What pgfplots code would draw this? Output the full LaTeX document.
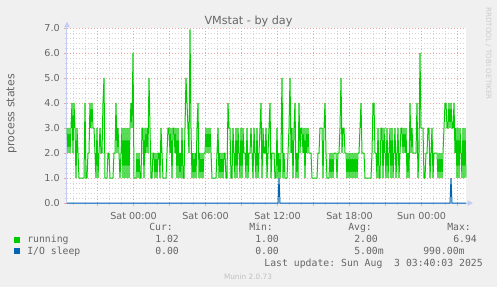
\documentclass[border=0pt]{standalone}
\usepackage{pgfplots}
\pgfplotsset{compat=1.18}
\usepackage{fontspec}
\setmainfont{DejaVu Sans}
\setmonofont{DejaVu Sans Mono}
\usetikzlibrary{arrows.meta}
\definecolor{bgc}{HTML}{F0F0F0}
\definecolor{txt}{HTML}{666666}
\definecolor{runc}{HTML}{00CC00}
\definecolor{iosc}{HTML}{0066B3}
\definecolor{axc}{HTML}{C4CCF4}
\definecolor{mgrid}{HTML}{EBA8A8}
\definecolor{mingrid}{HTML}{D4D4D4}
\definecolor{wm}{HTML}{CCCCCC}
\definecolor{munc}{HTML}{C0C0C0}
\newcommand\ft[1]{\fontsize{#1}{#1}\selectfont}
\pgfkeys{/pgf/number format/assume math mode=true}
\begin{document}
\begin{tikzpicture}[x=0.75pt,y=0.75pt]
\fill[bgc] (0,0) rectangle (497,287);
\path[use as bounding box] (0,0) rectangle (497,287);
\begin{axis}[
  at={(50.25pt,63pt)}, anchor=south west,
  scale only axis, width=299.25pt, height=131.25pt,
  xmin=67, xmax=466, ymin=0, ymax=7,
  clip=false,
  axis background/.style={fill=white},
  axis x line=bottom, axis y line=left,
  axis line style={draw=axc, line width=0.75pt},
  x axis line style={-{Triangle[length=4pt,width=4pt]}, shorten >=-5.25pt},
  y axis line style={-{Triangle[length=4pt,width=4pt]}, shorten >=-4.7pt},
  xtick={97.5,133.5,169.5,205.5,241.5,277.5,313.5,349.5,385.5,421.5,457.5},
  xticklabels={{},{Sat 00:00},{},{Sat 06:00},{},{Sat 12:00},{},{Sat 18:00},{},{Sun 00:00},{}},
  minor xtick={73.5,85.5,109.5,121.5,145.5,157.5,181.5,193.5,217.5,229.5,253.5,265.5,289.5,301.5,325.5,337.5,361.5,373.5,397.5,409.5,433.5,445.5},
  ytick={0,1,2,3,4,5,6,7},
  minor y tick num=4,
  yticklabel={\pgfmathprintnumber[fixed,fixed zerofill,precision=1]{\tick}},
  grid=both,
  major grid style={draw=mgrid, line width=0.75pt, dash pattern=on 0.75pt off 1.5pt},
  minor grid style={draw=mingrid, line width=0.75pt, dash pattern=on 0.75pt off 1.5pt},
  tick align=outside,
  major tick length=2.25pt, minor tick length=1.5pt,
  major tick style={draw=mgrid, line width=0.75pt},
  minor tick style={draw=mingrid, line width=0.75pt},
  tick label style={font=\ft{7.2pt}, text=txt},
  xticklabel style={anchor=base, inner sep=0pt, yshift=-9.75pt},
  yticklabel style={anchor=east, inner sep=0pt, xshift=-3pt},
  ylabel={process states},
  ylabel style={at={(axis description cs:-0.139,0.509)}, anchor=center, font=\ft{8.25pt}, text=txt},
]
\addplot[runc, line width=0.75pt, sharp plot] coordinates {
(67,3)(68,2)(69,3)(70,2)(71,3)(72,4)(73,2)(74,4)(75,3)(76,1)(77,3)(78,2)(79,1)(80,1)(81,1)(82,1)(83,1)(84,1)(85,4)(86,1)
(87,1)(88,2)(89,2)(90,4)(91,3)(92,4)(93,3)(94,3)(95,2)(96,1)(97,3)(98,1)(99,2)(100,3)(101,2)(102,2)(103,4)(104,5)(105,1)(106,1)
(107,1)(108,2)(109,2)(110,1)(111,1)(112,1)(113,1)(114,2)(115,2)(116,4)(117,2)(118,3)(119,2)(120,1)(121,2)(122,3)(123,1)(124,3)
(125,1)(126,3)(127,1)(128,3)(129,1)(130,3)(131,4)(132,3)(133,6)(134,1)(135,1)(136,1)(137,2)(138,1)(139,2)(140,1)(141,1)(142,3)
(143,3)(144,1)(145,3)(146,2)(147,3)(148,2)(149,5)(150,3)(151,1)(152,1)(153,2)(154,2)(155,1)(156,2)(157,1)(158,2)(159,2)(160,1)
(161,3)(162,2)(163,1)(164,1)(165,1)(166,1)(167,2)(168,3)(169,3)(170,2)(171,3)(172,1)(173,3)(174,3)(175,2)(176,3)(177,1)(178,3)
(179,1)(180,2)(181,1)
(182,3)(183,1)(184,1)(185,3)(186,5)(187,4)(188,3)(189,2)(190,6.94)(191,3)(192,1)(193,2)(194,1)(195,2)(196,1)(197,3)(198,4)(199,1)
(200,2)(201,1)(202,2)(203,1)(204,2)(205,2)(206,3)(207,2)(208,3)(209,2)(210,3)(211,2)(212,1)(213,1)(214,1)(215,1)(216,1)(217,2)
(218,3)(219,1)(220,2)(221,1)(222,2)(223,1)(224,2)(225,2)(226,1)(227,1)(228,4)(229,3)(230,3)(231,1)(232,1)(233,3)(234,2)(235,1)
(236,3)(237,1)(238,3)
(239,2)(240,1)(241,3)(242,1)(243,3)(244,2)(245,2)(246,1)(247,3)(248,1)(249,2)(250,2)(251,3)(252,2)(253,1)(254,3)(255,2)(256,1)
(257,3)(258,1)(259,2)(260,3)(261,4)(262,1)(263,3)(264,2)(265,2)(266,3)(267,1)(268,2)(269,3)(270,4)(271,1)(272,2)(273,2)(274,2)
(275,1)(276,1)(277,3)(278,1)(279,2)(280,1)(281,2)(282,5)(283,1)(284,2)(285,1)(286,1)(287,1)(288,2)(289,3)(290,5)(291,2)(292,3)
(293,1)(294,3)
(295,4)(296,1)(297,2)(298,1)(299,4)(300,2)(301,3)(302,3)(303,2)(304,3)(305,1)(306,3)(307,2)(308,3)(309,2)(310,2)(311,2)(312,1)
(313,1)(314,1)(315,1)(316,1)(317,1)(318,2)(319,2)(320,3)(321,3)(322,3)(323,1)(324,3)(325,4)(326,2)(327,1)(328,1)(329,1)(330,2)
(331,1)(332,2)(333,1)(334,2)(335,2)(336,2)(337,1)(338,2)(339,2)(340,3)(341,5)(342,2)(343,3)(344,3)(345,2)(346,2)(347,1)(348,2)
(349,1)(350,2)(351,1)
(352,2)(353,1)(354,2)(355,1)(356,2)(357,1)(358,2)(359,2)(360,3)(361,4)(362,2)(363,2)(364,2)(365,1)(366,1)(367,1)(368,1)(369,1)
(370,1)(371,1)(372,2)(373,4)(374,4)(375,2)(376,2)(377,1)(378,3)(379,1)(380,1)(381,3)(382,3)(383,1)(384,3)(385,2)(386,1)(387,3)
(388,1)(389,2)(390,3)(391,1)(392,3)(393,1)(394,2)(395,3)(396,1)(397,2)(398,3)(399,1)(400,2)(401,3)(402,3)(403,2)(404,3)(405,2)
(406,3)(407,1)(408,2)(409,1)(410,4)(411,2)(412,3)(413,2)(414,2)(415,2)(416,2)(417,4)(418,1)(419,2)(420,6)(421,3)(422,3)(423,3)
(424,1)(425,1)(426,2)(427,2)(428,3)(429,3)(430,1)(431,2)(432,3)(433,1)(434,2)(435,2)(436,2)(437,2)(438,1)(439,2)(440,1)(441,2)
(442,1)(443,2)(444,3)(445,4)(446,4)(447,3)(448,3)(449,4)(450,3)(451,4)(452,3)(453,3)(454,4)(455,2)(456,3)(457,1)(458,3)(459,1)
(460,3)(461,2)(462,1)(463,3)(464,1)(465,3)(466,1.02)
};
\addplot[iosc, line width=0.75pt, sharp plot] coordinates {
(67,0)(278,0)(279,0.99)(280,0)(450,0)(451,0.99)(452,0)(466,0)
};
\end{axis}
% title and watermark
\node[anchor=base, text=txt, font=\ft{8.4pt}, inner sep=0pt] at (248.5,263) {VMstat - by day};
\node[rotate=-90, anchor=center, text=wm, font=\ft{5.4pt}, inner sep=0pt] at (488.5,233.5) {RRDTOOL / TOBI OETIKER};
% legend
\begin{scope}[every node/.style={inner sep=0pt, text=txt, font=\ttfamily\ft{7.35pt}}]
\node[anchor=base west] at (149,56.3) {Cur:};
\node[anchor=base west] at (249,56.3) {Min:};
\node[anchor=base west] at (348,56.3) {Avg:};
\node[anchor=base west] at (447,56.3) {Max:};
\fill[runc] (14,44) rectangle (20,50);
\node[anchor=base west] at (27,44.3) {running};
\node[anchor=base west] at (155,44.3) {1.02};
\node[anchor=base west] at (255,44.3) {1.00};
\node[anchor=base west] at (354,44.3) {2.00};
\node[anchor=base west] at (453,44.3) {6.94};
\fill[iosc] (14,32.7) rectangle (20,38.7);
\node[anchor=base west] at (27,32.7) {I/O sleep};
\node[anchor=base west] at (155,32.7) {0.00};
\node[anchor=base west] at (255,32.7) {0.00};
\node[anchor=base west] at (354,32.7) {5.00m};
\node[anchor=base west] at (423,32.7) {990.00m};
\node[anchor=base east] at (483,20.8) {Last update: Sun Aug\ \ 3 03:40:03 2025};
\end{scope}
\node[anchor=base, text=munc, font=\ft{5.5pt}, inner sep=0pt] at (248,8) {Munin 2.0.73};
\end{tikzpicture}
\end{document}
